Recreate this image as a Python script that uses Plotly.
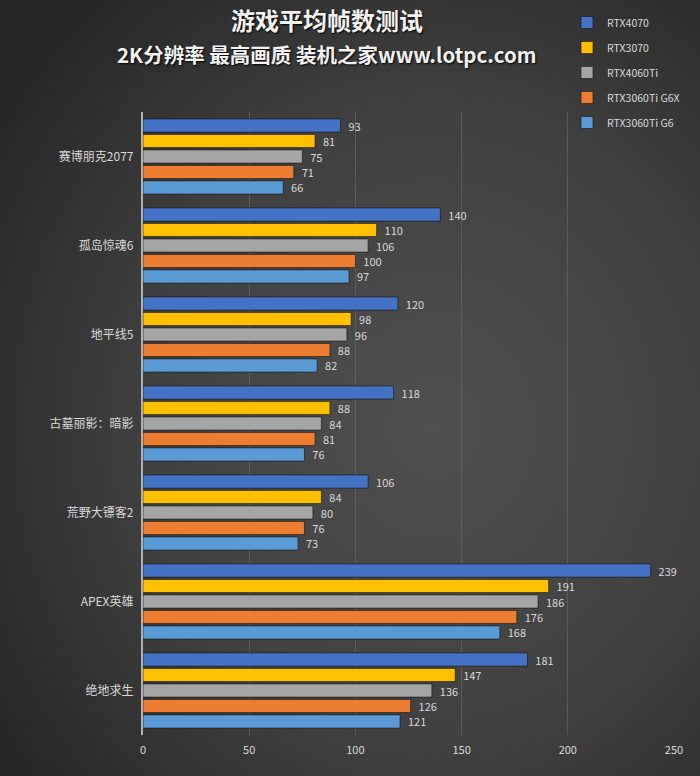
import base64

import plotly.graph_objects as go

# ── data ───────────────────────────────────────────────────────────────
games = ["赛博朋克2077", "孤岛惊魂6", "地平线5", "古墓丽影：暗影", "荒野大镖客2", "APEX英雄", "绝地求生"]
series_names = ["RTX4070", "RTX3070", "RTX4060Ti", "RTX3060Ti G6X", "RTX3060Ti G6"]
rtx4070 = [93, 140, 120, 118, 106, 239, 181]
rtx3070 = [81, 110, 98, 88, 84, 191, 147]
rtx4060ti = [75, 106, 96, 84, 80, 186, 136]
rtx3060ti_g6x = [71, 100, 88, 81, 76, 176, 126]
rtx3060ti_g6 = [66, 97, 82, 76, 73, 168, 121]
x_ticks = [0, 50, 100, 150, 200, 250]

series_values = [rtx4070, rtx3070, rtx4060ti, rtx3060ti_g6x, rtx3060ti_g6]
colors = ["#4472C4", "#FFC000", "#A5A5A5", "#ED7D31", "#5B9BD5"]

W, H = 700, 776
L, R, T, B = 143, 26, 112, 41
pw, ph = W - L - R, H - T - B

FONT = "Noto Sans CJK SC"
TXT = "#d9d9d9"

fig = go.Figure()
for name, vals, col in zip(series_names, series_values, colors):
    fig.add_trace(go.Bar(
        y=games, x=vals, name=name, orientation="h",
        marker=dict(color=col, line=dict(color="rgba(20,20,20,0.6)", width=1)),
        text=vals, texttemplate="  %{x}", textposition="outside",
        constraintext="none", cliponaxis=False,
        textfont=dict(color=TXT, size=11, family=FONT),
        legendgroup=name,
    ))

# dark radial-gradient backdrop, like the source chart
svg = (
    '<svg xmlns="http://www.w3.org/2000/svg" width="700" height="776">'
    '<defs><radialGradient id="g" cx="0.62" cy="0.55" r="0.75">'
    '<stop offset="0" stop-color="#505050"/>'
    '<stop offset="0.55" stop-color="#404040"/>'
    '<stop offset="1" stop-color="#252525"/>'
    '</radialGradient></defs>'
    '<rect width="700" height="776" fill="url(#g)"/></svg>'
)
bg_src = "data:image/svg+xml;base64," + base64.b64encode(svg.encode()).decode()

fig.update_layout(
    width=W, height=H,
    margin=dict(l=L, r=R, t=T, b=B, autoexpand=False),
    paper_bgcolor="#2a2a2a",
    plot_bgcolor="rgba(0,0,0,0)",
    barmode="group", bargap=0.13, bargroupgap=0.15,
    font=dict(family=FONT, color=TXT),
    showlegend=True,
    legend=dict(
        xref="container", yref="container",
        x=567 / W, y=1 - 8 / H, xanchor="left", yanchor="top",
        font=dict(size=10.5, color=TXT, family=FONT),
        bgcolor="rgba(0,0,0,0)", tracegroupgap=6, itemwidth=30,
    ),
    xaxis=dict(
        range=[0, 250], tickvals=x_ticks, showgrid=True, automargin=False,
        gridcolor="rgba(120,120,120,0.45)", gridwidth=1, zeroline=False,
        tickfont=dict(size=11, color=TXT), ticks="", showline=False,
        ticklabelstandoff=7,
    ),
    yaxis=dict(
        autorange="reversed", showline=True, linecolor="#b0b0b0", linewidth=1.5,
        automargin=False,
        tickfont=dict(size=12, color=TXT), ticks="", ticksuffix="  ",
    ),
    images=[dict(
        source=bg_src, xref="paper", yref="paper",
        x=-L / pw, y=1 + T / ph, sizex=W / pw, sizey=H / ph,
        xanchor="left", yanchor="top", sizing="stretch", layer="below",
    )],
    annotations=[
        dict(text="<b>游戏平均帧数测试</b>", xref="paper", yref="paper",
             x=(327 - L) / pw, y=1 + (T - 20) / ph, showarrow=False,
             xanchor="center", yanchor="middle",
             font=dict(size=24, color="#f2f2f2", family=FONT, shadow="1px 1px 2px #000")),
        dict(text="<b>2K分辨率 最高画质 装机之家www.lotpc.com</b>", xref="paper", yref="paper",
             x=(327 - L) / pw, y=1 + (T - 54) / ph, showarrow=False,
             xanchor="center", yanchor="middle",
             font=dict(size=20.5, color="#f2f2f2", family=FONT, shadow="1px 1px 2px #000")),
    ],
)

# drop the browser's default 8px body margin so the figure fills the window
fig.write_html("out.html", config={"displayModeBar": False},
               post_script="document.body.style.margin='0';")
